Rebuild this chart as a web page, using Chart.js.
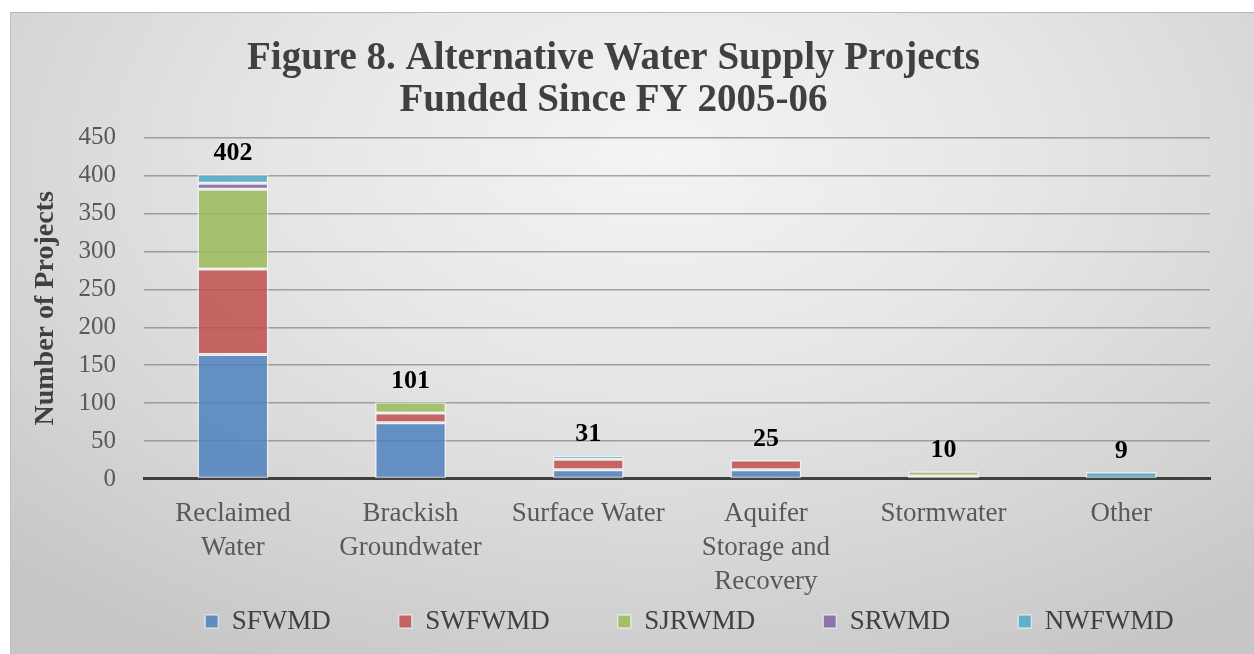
<!DOCTYPE html>
<html>
<head>
<meta charset="utf-8">
<script src="https://cdn.jsdelivr.net/npm/chart.js"></script>
<style>
  html, body { margin: 0; padding: 0; background: #fff; }
  #wrap {
    position: absolute; left: 10px; top: 12px; width: 1244px; height: 642px;
    background: radial-gradient(ellipse 75% 90% at 52% 22%, #f4f4f4 0%, #e6e6e6 40%, #d4d4d4 75%, #c6c6c6 100%);
    border-top: 1px solid #b8b8b8; border-left: 1px solid #c0c0c0;
  }
</style>
</head>
<body>
<div id="wrap"><canvas id="myChart" width="1244" height="642"></canvas></div>
<script>
const categories = [["Reclaimed", "Water"], ["Brackish", "Groundwater"], "Surface Water",
  ["Aquifer", "Storage and", "Recovery"], "Stormwater", "Other"];
const sfwmd  = [164, 74, 12, 12, 4, 0];
const swfwmd = [113, 13, 14, 13, 0, 0];
const sjrwmd = [105, 14, 0, 0, 6, 0];
const srwmd  = [8, 0, 0, 0, 0, 0];
const nwfwmd = [12, 0, 5, 0, 0, 9];
const yTicks = [0, 50, 100, 150, 200, 250, 300, 350, 400, 450];

const serif = "'Liberation Serif', 'DejaVu Serif', serif";
const legendGap = 68;

function series(label, data, color) {
  return {
    label: label,
    data: data,
    backgroundColor: color,
    borderColor: "rgba(255,255,255,0.55)",
    borderWidth: 1.5,
    borderSkipped: false,
    barPercentage: 0.4,
    categoryPercentage: 1.0
  };
}

// totals drawn above each stacked bar
const totalsPlugin = {
  id: "totals",
  afterDatasetsDraw(chart) {
    const ctx = chart.ctx;
    const xs = chart.scales.x, ys = chart.scales.y;
    ctx.save();
    ctx.font = "bold 26px " + serif;
    ctx.fillStyle = "#000";
    ctx.textAlign = "center";
    ctx.textBaseline = "bottom";
    categories.forEach((c, i) => {
      let total = 0;
      chart.data.datasets.forEach(ds => total += ds.data[i]);
      ctx.fillText(total, xs.getPixelForValue(i), ys.getPixelForValue(total) - 8);
    });
    ctx.restore();
  }
};

// legend padding is used both between items and above the row;
// keep the wide horizontal gaps but drop most of the vertical space
const legendTweak = {
  id: "legendTweak",
  afterInit(chart) {
    const lg = chart.legend;
    const fit = lg.fit;
    lg.fit = function () { fit.call(this); this.height -= legendGap - 3; };
    const draw = lg.draw;
    lg.draw = function () {
      const t = this.top, l = this.left, r = this.right;
      this.top -= legendGap + 1;
      this.left += 76; this.right += 76;
      draw.call(this);
      this.top = t; this.left = l; this.right = r;
    };
  }
};

new Chart("myChart", {
  type: "bar",
  data: {
    labels: categories,
    datasets: [
      series("SFWMD", sfwmd, "rgba(79,129,189,0.85)"),
      series("SWFWMD", swfwmd, "rgba(192,80,77,0.85)"),
      series("SJRWMD", sjrwmd, "rgba(155,187,89,0.85)"),
      series("SRWMD", srwmd, "rgba(128,100,162,0.85)"),
      series("NWFWMD", nwfwmd, "rgba(75,172,198,0.85)")
    ]
  },
  options: {
    responsive: false,
    animation: false,
    layout: { padding: { left: 6, right: 45, top: 8, bottom: 6 } },
    plugins: {
      title: {
        display: true,
        text: ["Figure 8. Alternative Water Supply Projects", "Funded Since FY 2005-06"],
        font: { family: serif, size: 39, weight: "bold", lineHeight: 1.1 },
        color: "#404040",
        padding: { top: 16, bottom: 15 }
      },
      legend: {
        position: "bottom",
        labels: {
          font: { family: serif, size: 27 },
          color: "#404040",
          boxWidth: 13,
          boxHeight: 13,
          padding: legendGap
        }
      },
      tooltip: { enabled: false }
    },
    scales: {
      x: {
        stacked: true,
        grid: { display: false },
        border: { color: "#404040", width: 3 },
        ticks: {
          font: { family: serif, size: 27, lineHeight: 1.26 },
          color: "#595959",
          padding: 10,
          maxRotation: 0,
          minRotation: 0,
          autoSkip: false
        }
      },
      y: {
        stacked: true,
        min: 0,
        max: 450,
        afterBuildTicks: axis => { axis.ticks = yTicks.map(v => ({ value: v })); },
        grid: { color: "rgba(130,130,130,0.7)", lineWidth: 1.5, drawTicks: false },
        border: { display: false },
        ticks: { font: { family: serif, size: 25 }, color: "#595959", padding: 28, autoSkip: false },
        title: {
          display: true,
          text: "Number of Projects",
          font: { family: serif, size: 28, weight: "bold" },
          color: "#404040",
          padding: { top: 12, bottom: -12 }
        }
      }
    }
  },
  plugins: [totalsPlugin, legendTweak]
});
</script>
</body>
</html>
